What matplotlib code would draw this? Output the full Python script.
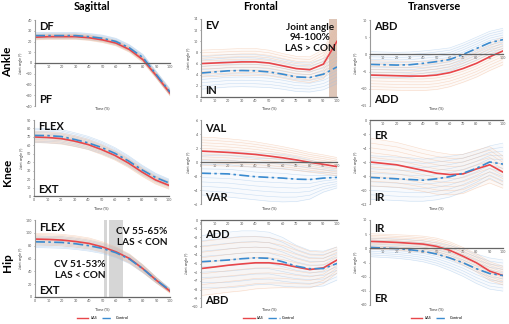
# mean +/- SD joint angle curves, LAS vs control, ankle/knee/hip in three planes
import matplotlib
matplotlib.use('Agg')
import matplotlib.pyplot as plt
from matplotlib.lines import Line2D
import numpy as np

plt.rcParams['font.family'] = ['Lato', 'DejaVu Sans']

t = [0, 10, 20, 30, 40, 50, 60, 70, 80, 90, 100]

# ankle
ank_sag_las = [24, 24.5, 24.5, 24.5, 23.5, 21.5, 18.5, 12.5, 3, -12, -28]
ank_sag_con = [25.5, 25.5, 25.5, 25.5, 24.5, 23, 20, 14, 5, -11, -27]
ank_sag_las_sd = [2.5, 2.5, 2.5, 2.5, 2.5, 2.5, 2.5, 2.5, 2.5, 2.5, 2.5]
ank_sag_con_sd = [3, 3, 3, 3, 3, 3, 3, 3, 3, 3, 3]

ank_fro_las = [6.0, 6.1, 6.2, 6.3, 6.3, 6.1, 5.6, 5.1, 4.9, 5.9, 10.0]
ank_fro_con = [4.3, 4.5, 4.7, 4.75, 4.7, 4.5, 4.1, 3.6, 3.5, 4.1, 5.4]
ank_fro_las_sd = [2.4, 2.4, 2.4, 2.4, 2.4, 2.3, 2.2, 2.2, 2.3, 2.6, 3.5]
ank_fro_con_sd = [2.9, 2.9, 2.9, 2.9, 2.9, 2.8, 2.7, 2.6, 2.6, 2.8, 3.0]

ank_tra_las = [-6.0, -6.1, -6.2, -6.3, -6.3, -6.0, -5.3, -4.1, -2.6, -0.7, 1.0]
ank_tra_con = [-2.9, -3.0, -3.1, -3.0, -2.6, -2.1, -1.5, 0.0, 1.7, 3.4, 4.3]
ank_tra_las_sd = [4.2, 4.2, 4.2, 4.2, 4.2, 4.2, 4.1, 4.0, 4.0, 4.0, 4.0]
ank_tra_con_sd = [3.7, 3.7, 3.7, 3.7, 3.6, 3.5, 3.4, 3.3, 3.3, 3.3, 3.3]

# knee
kne_sag_las = [69.9, 69.3, 68, 65, 61, 55, 48, 39, 28.4, 19, 12.6]
kne_sag_con = [71.8, 71.5, 70.5, 67, 63, 57.5, 50.5, 41.5, 31, 22, 15.5]
kne_sag_las_sd = [6.5, 6.5, 6.5, 6.3, 6, 5.8, 5.5, 5.2, 5, 4.8, 4.5]
kne_sag_con_sd = [8.5, 8.5, 8.3, 8, 7.7, 7.3, 6.8, 6.2, 5.6, 5, 4.5]

kne_fro_las = [1.56, 1.47, 1.37, 1.23, 1.08, 0.85, 0.6, 0.3, -0.05, -0.33, -0.66]
kne_fro_con = [-1.6, -1.65, -1.7, -1.9, -2.1, -2.2, -2.3, -2.45, -2.5, -2.3, -2.2]
kne_fro_las_sd = [2.0, 2.0, 1.95, 1.9, 1.8, 1.7, 1.6, 1.5, 1.4, 1.35, 1.3]
kne_fro_con_sd = [3.1, 3.2, 3.3, 3.3, 3.3, 3.4, 3.4, 3.2, 2.8, 2.0, 1.5]

kne_tra_las = [-6.0, -6.2, -6.4, -6.8, -7.2, -7.6, -7.8, -7.7, -7.0, -6.4, -7.45]
kne_tra_con = [-8.2, -8.3, -8.4, -8.5, -8.6, -8.4, -8.1, -7.6, -6.9, -6.0, -6.3]
kne_tra_las_sd = [3.4, 3.3, 3.2, 3.1, 3.0, 3.0, 2.9, 2.8, 2.7, 2.6, 2.3]
kne_tra_con_sd = [3.1, 3.1, 3.1, 3.1, 3.0, 3.0, 2.9, 2.7, 2.5, 2.3, 3.0]

# hip
hip_sag_las = [90.3, 89.7, 88.7, 86.5, 83.5, 78, 70.4, 60, 44, 26, 9]
hip_sag_con = [86, 85.6, 85, 83, 80, 75.7, 69, 59, 43.8, 26, 10.4]
hip_sag_las_sd = [9, 9, 9, 8.8, 8.5, 8, 7.5, 7, 6, 4.5, 3]
hip_sag_con_sd = [9, 9, 9, 8.8, 8.5, 8, 7.5, 7, 6, 4.5, 3]

hip_fro_las = [-5.58, -5.4, -5.2, -5.05, -4.92, -4.92, -5.08, -5.4, -5.7, -5.5, -4.6]
hip_fro_con = [-4.8, -4.7, -4.6, -4.45, -4.35, -4.4, -4.8, -5.3, -5.6, -5.58, -5.0]
hip_fro_las_sd = [3.1, 3.1, 3.1, 3.1, 3.0, 2.9, 2.7, 2.4, 2.1, 1.8, 1.5]
hip_fro_con_sd = [3.0, 3.1, 3.2, 3.2, 3.1, 3.0, 2.8, 2.4, 2.1, 2.0, 1.9]

hip_tra_las = [2.45, 2.3, 2.1, 1.8, 1.5, 0.7, -0.7, -2.8, -5.1, -8.05, -9.6]
hip_tra_con = [0.35, 0.1, -0.1, -0.5, -1.05, -2.0, -3.4, -5.1, -7.2, -8.9, -9.6]
hip_tra_las_sd = [2.7, 2.7, 2.7, 2.8, 2.8, 2.9, 3.0, 3.1, 3.2, 3.3, 3.3]
hip_tra_con_sd = [3.3, 3.3, 3.4, 3.5, 3.7, 4.0, 4.4, 4.8, 5.2, 5.5, 5.5]

planes = ['Sagittal', 'Frontal', 'Transverse']
joints = ['Ankle', 'Knee', 'Hip']

W, H = 510, 324
fig = plt.figure(figsize=(W / 100, H / 100), dpi=100)

def px_axes(l, t_, r, b):
    return fig.add_axes([l / W, 1 - b / H, (r - l) / W, (b - t_) / H])

LAS_C = '#e8464a'
CON_C = '#3a8bd0'
LAS_BAND = '#f0b894'
CON_BAND = '#9cc2e8'

def band(ax, mean, sd, col):
    mean = np.asarray(mean); sd = np.asarray(sd)
    ax.fill_between(t, mean - sd, mean + sd, color=col, alpha=0.07, lw=0)
    for k in np.linspace(-1, 1, 11):
        ax.plot(t, mean + k * sd, color=col, lw=0.4, alpha=0.5)

# (rect in px, las, con, las_sd, con_sd, ylim, ystep, top label, bottom label, top label y)
panels = [
    [(35, 20, 170, 106), ank_sag_las, ank_sag_con, ank_sag_las_sd, ank_sag_con_sd, (-40, 40), 10, 'DF', 'PF', 0.92],
    [(201, 19, 337, 97), ank_fro_las, ank_fro_con, ank_fro_las_sd, ank_fro_con_sd, (0, 14), 2, 'EV', 'IN', 0.92],
    [(370, 20, 503, 106), ank_tra_las, ank_tra_con, ank_tra_las_sd, ank_tra_con_sd, (-15, 10), 5, 'ABD', 'ADD', 0.92],
    [(34, 120, 169, 196), kne_sag_las, kne_sag_con, kne_sag_las_sd, kne_sag_con_sd, (0, 90), 10, 'FLEX', 'EXT', 0.92],
    [(201, 120, 337, 204), kne_fro_las, kne_fro_con, kne_fro_las_sd, kne_fro_con_sd, (-6, 6), 2, 'VAL', 'VAR', 0.9],
    [(370, 120, 503, 204), kne_tra_las, kne_tra_con, kne_tra_las_sd, kne_tra_con_sd, (-12, 0), 2, 'ER', 'IR', 0.82],
    [(35, 220, 170, 297), hip_sag_las, hip_sag_con, hip_sag_las_sd, hip_sag_con_sd, (0, 120), 20, 'FLEX', 'EXT', 0.9],
    [(201, 220, 337, 307), hip_fro_las, hip_fro_con, hip_fro_las_sd, hip_fro_con_sd, (-10, 0), 1, 'ADD', 'ABD', 0.83],
    [(370, 220, 503, 305), hip_tra_las, hip_tra_con, hip_tra_las_sd, hip_tra_con_sd, (-20, 10), 5, 'IR', 'ER', 0.9],
]

time_y = [108, 208, 309]
axes = []
for i, (rect, las, con, las_sd, con_sd, ylim, ystep, top, bot, ty) in enumerate(panels):
    ax = px_axes(*rect)
    axes.append(ax)
    band(ax, con, con_sd, CON_BAND)
    band(ax, las, las_sd, LAS_BAND)
    ax.plot(t, las, color=LAS_C, lw=1.2)
    ax.plot(t, con, color=CON_C, lw=1.2, dashes=(6, 2, 1.5, 2))
    ax.set_xlim(0, 100)
    ax.set_ylim(*ylim)
    ax.set_yticks(np.arange(ylim[0], ylim[1] + ystep / 2, ystep))
    ax.set_xticks(np.arange(0, 101, 10))
    for s in ['top', 'right']:
        ax.spines[s].set_visible(False)
    ax.spines['left'].set_color('#9a9a9a')
    ax.spines['left'].set_linewidth(0.8)
    ax.spines['bottom'].set_position(('data', 0))
    ax.spines['bottom'].set_color('#666666')
    ax.spines['bottom'].set_linewidth(0.9)
    ax.tick_params(labelsize=2.6, length=1, width=0.4, pad=1, colors='#555555')
    ax.tick_params(axis='x', length=0, pad=1.5)
    ax.set_ylabel('Joint angle (°)', fontsize=2.6, labelpad=2, color='#333333')
    ax.text(0.03, ty, top, transform=ax.transAxes, fontsize=8, fontweight='bold',
            va='center', ha='left', color='#111111')
    ax.text(0.03, 0.08, bot, transform=ax.transAxes, fontsize=8, fontweight='bold',
            va='center', ha='left', color='#111111')
    cx = (rect[0] + rect[2]) / 2
    fig.text(cx / W, 1 - time_y[i // 3] / H, 'Time (%)', fontsize=2.8,
             ha='center', va='center', color='#333333')
    if i >= 6:
        handles = [Line2D([], [], color=LAS_C, lw=1.0),
                   Line2D([], [], color=CON_C, lw=1.0, dashes=(6, 2, 1.5, 2))]
        fig.legend(handles, ['LAS', 'Control'], loc='center', ncol=2,
                   bbox_to_anchor=(cx / W, 1 - 318 / H), frameon=False,
                   fontsize=2.8, handlelength=3, columnspacing=1.2, handletextpad=0.5)

# ankle frontal: significant window at end of the cycle
axes[1].axvspan(94, 100, color='#c9a08a', alpha=0.6, lw=0)
fig.text(310 / W, 1 - 38 / H, 'Joint angle\n94-100%\nLAS > CON', fontsize=7.2,
         fontweight='bold', ha='center', va='center', linespacing=1.25, color='#111111')

# hip sagittal: CV windows
axes[6].axvspan(51, 53, color='#d2d2d2', alpha=0.9, lw=0, zorder=0)
axes[6].axvspan(55, 65, color='#d2d2d2', alpha=0.9, lw=0, zorder=0)
fig.text(142 / W, 1 - 237 / H, 'CV 55-65%\nLAS < CON', fontsize=7.2,
         fontweight='bold', ha='center', va='center', linespacing=1.25, color='#111111')
fig.text(80 / W, 1 - 270 / H, 'CV 51-53%\nLAS < CON', fontsize=7.2,
         fontweight='bold', ha='center', va='center', linespacing=1.25, color='#111111')

for x, name in zip([92, 261, 435], planes):
    fig.text(x / W, 1 - 7 / H, name, fontsize=7.8, fontweight='bold',
             ha='center', va='center')
for y, name in zip([62, 172, 263], joints):
    fig.text(8 / W, 1 - y / H, name, fontsize=8.5, fontweight='bold',
             ha='center', va='center', rotation=90)

fig.savefig('out.png', dpi=100)
